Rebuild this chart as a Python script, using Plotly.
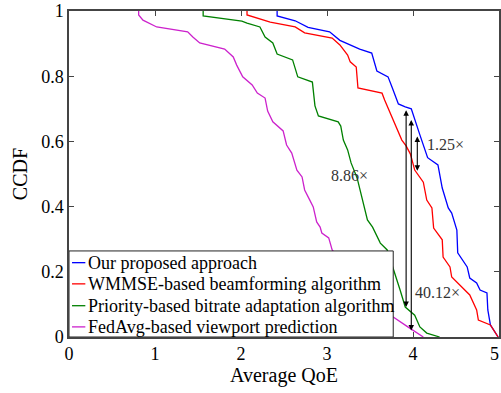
import plotly.graph_objects as go

# ---- data ----
series_names = [
    "Our proposed approach",
    "WMMSE-based beamforming algorithm",
    "Priority-based bitrate adaptation algorithm",
    "FedAvg-based viewport prediction",
]
series_colors = ["#0000ff", "#ff0000", "#008000", "#cc22cc"]

ours_x = [2.42, 2.42, 2.63, 2.78, 3.03, 3.15, 3.38, 3.52, 3.58, 3.71, 3.76, 3.83, 3.91, 3.98,
          4.08, 4.17, 4.29, 4.34, 4.41, 4.45, 4.51, 4.52, 4.63, 4.66, 4.74, 4.78, 4.86, 4.87,
          4.90, 4.95, 4.99]
ours_y = [1.0, 0.985, 0.97, 0.95, 0.936, 0.91, 0.883, 0.871, 0.816, 0.798, 0.764, 0.715, 0.706,
          0.70, 0.62, 0.55, 0.528, 0.457, 0.396, 0.38, 0.328, 0.258, 0.215, 0.181, 0.166, 0.144,
          0.135, 0.083, 0.037, 0.015, 0.0]

wmmse_x = [2.07, 2.07, 2.34, 2.63, 2.74, 3.06, 3.15, 3.24, 3.27, 3.34, 3.36, 3.64, 3.67, 3.73,
           3.81, 3.87, 3.92, 3.97, 4.02, 4.08, 4.12, 4.16, 4.22, 4.24, 4.34, 4.35, 4.43, 4.45,
           4.66, 4.74, 4.76, 4.90, 4.99]
wmmse_y = [1.0, 0.988, 0.966, 0.951, 0.933, 0.917, 0.896, 0.865, 0.844, 0.828, 0.764, 0.748,
           0.727, 0.69, 0.644, 0.604, 0.586, 0.561, 0.512, 0.488, 0.475, 0.42, 0.396, 0.334,
           0.298, 0.245, 0.215, 0.184, 0.129, 0.083, 0.052, 0.037, 0.0]

prio_x = [1.56, 1.56, 2.01, 2.07, 2.22, 2.28, 2.37, 2.42, 2.60, 2.66, 2.83, 2.86, 2.90, 3.13,
          3.16, 3.19, 3.24, 3.28, 3.35, 3.41, 3.47, 3.53, 3.62, 3.70, 3.77, 3.85, 3.91, 3.97,
          4.02, 4.08, 4.16, 4.31]
prio_y = [1.0, 0.985, 0.969, 0.963, 0.951, 0.92, 0.902, 0.868, 0.85, 0.798, 0.782, 0.709,
          0.678, 0.66, 0.647, 0.604, 0.574, 0.534, 0.488, 0.426, 0.359, 0.337, 0.288, 0.267,
          0.212, 0.144, 0.092, 0.077, 0.067, 0.031, 0.012, 0.0]

fed_x = [0.81, 0.81, 0.86, 1.02, 1.38, 1.44, 1.52, 1.81, 1.91, 1.95, 2.02, 2.13, 2.19, 2.28,
         2.31, 2.37, 2.49, 2.53, 2.59, 2.65, 2.71, 2.74, 2.80, 2.84, 2.88, 2.92, 2.94, 3.02,
         3.06, 3.20, 3.35, 3.50, 3.65, 3.77, 3.94, 4.12]
fed_y = [1.0, 0.988, 0.972, 0.951, 0.936, 0.92, 0.902, 0.883, 0.859, 0.834, 0.798, 0.773,
         0.748, 0.733, 0.693, 0.66, 0.632, 0.589, 0.564, 0.512, 0.491, 0.451, 0.42, 0.399,
         0.353, 0.337, 0.319, 0.304, 0.267, 0.22, 0.17, 0.13, 0.09, 0.061, 0.031, 0.0]

# gain annotations: x position, top y, bottom y, label, label x, label y
gain_labels = ["8.86\u00d7", "40.12\u00d7", "1.25\u00d7"]
gain_x = [3.92, 3.98, 4.05]
gain_top = [0.70, 0.67, 0.62]
gain_bottom = [0.092, 0.02, 0.51]
gain_label_x = [3.26, 4.28, 4.38]
gain_label_y = [0.494, 0.135, 0.589]

x_ticks = [0, 1, 2, 3, 4, 5]
x_tick_text = ["0", "1", "2", "3", "4", ""]   # last label drawn separately so it is not clipped
x_last_label = "5"
y_ticks = [0, 0.2, 0.4, 0.6, 0.8, 1]
y_tick_text = ["0", "0.2", "0.4", "0.6", "0.8", "1"]

FONT = "Liberation Serif"

fig = go.Figure()
all_x = [ours_x, wmmse_x, prio_x, fed_x]
all_y = [ours_y, wmmse_y, prio_y, fed_y]
for name, color, xs, ys in zip(series_names, series_colors, all_x, all_y):
    fig.add_trace(go.Scatter(x=xs, y=ys, mode="lines", name=name,
                             line=dict(color=color, width=1.3), showlegend=False))

annotations = []
for lab, gx, gt, gb, lx, ly in zip(gain_labels, gain_x, gain_top, gain_bottom,
                                   gain_label_x, gain_label_y):
    annotations.append(dict(x=gx, y=gb, ax=gx, ay=gt, xref="x", yref="y",
                            axref="x", ayref="y", showarrow=True, text="",
                            arrowhead=2, startarrowhead=2, arrowside="end+start",
                            arrowsize=1, arrowwidth=1.1, arrowcolor="black",
                            startstandoff=0, standoff=0))
    annotations.append(dict(x=lx, y=ly, xref="x", yref="y", text=lab, showarrow=False,
                            font=dict(family=FONT, size=16, color="#333333")))

# last x tick label, kept inside the page
annotations.append(dict(x=x_ticks[-1], y=0, xref="x", yref="y", text=x_last_label,
                        showarrow=False, xanchor="right", yanchor="top", xshift=2,
                        yshift=-5, font=dict(family=FONT, size=18, color="black")))

# custom legend box (drawn over the curves, bottom-left)
leg_right = 3.77
leg_top = 0.264
leg_rows = [0.228, 0.163, 0.096, 0.031]
shapes = [dict(type="rect", xref="x", yref="y", x0=0, x1=leg_right, y0=0, y1=leg_top,
               fillcolor="white", line=dict(color="#222222", width=1), layer="above")]
for color, ry, name in zip(series_colors, leg_rows, series_names):
    shapes.append(dict(type="line", xref="x", yref="y", x0=0.035, x1=0.19, y0=ry, y1=ry,
                       line=dict(color=color, width=1.3), layer="above"))
    annotations.append(dict(x=0.2, y=ry, xref="x", yref="y", text=name, showarrow=False,
                            xanchor="left", yanchor="middle",
                            font=dict(family=FONT, size=18, color="black")))

fig.update_layout(
    width=501, height=393,
    margin=dict(l=69, r=2, t=11, b=56),
    paper_bgcolor="white", plot_bgcolor="white",
    font=dict(family=FONT, size=18, color="black"),
    shapes=shapes, annotations=annotations,
    xaxis=dict(range=[0, 5], tickvals=x_ticks, ticktext=x_tick_text, ticks="inside",
               ticklen=5, showline=True, linecolor="#444444", linewidth=1.5, mirror="ticks",
               showgrid=False, zeroline=False, automargin=False,
               title=dict(text="Average QoE", font=dict(size=20), standoff=4),
               tickfont=dict(size=18)),
    yaxis=dict(range=[0, 1], tickvals=y_ticks, ticktext=y_tick_text, ticks="inside",
               ticklen=5, showline=True, linecolor="#444444", linewidth=1.5,
               mirror="ticks", showgrid=False, zeroline=False, automargin=False,
               title=dict(text="CCDF", font=dict(size=20), standoff=8),
               tickfont=dict(size=18)),
)

fig.write_html("out.html")
